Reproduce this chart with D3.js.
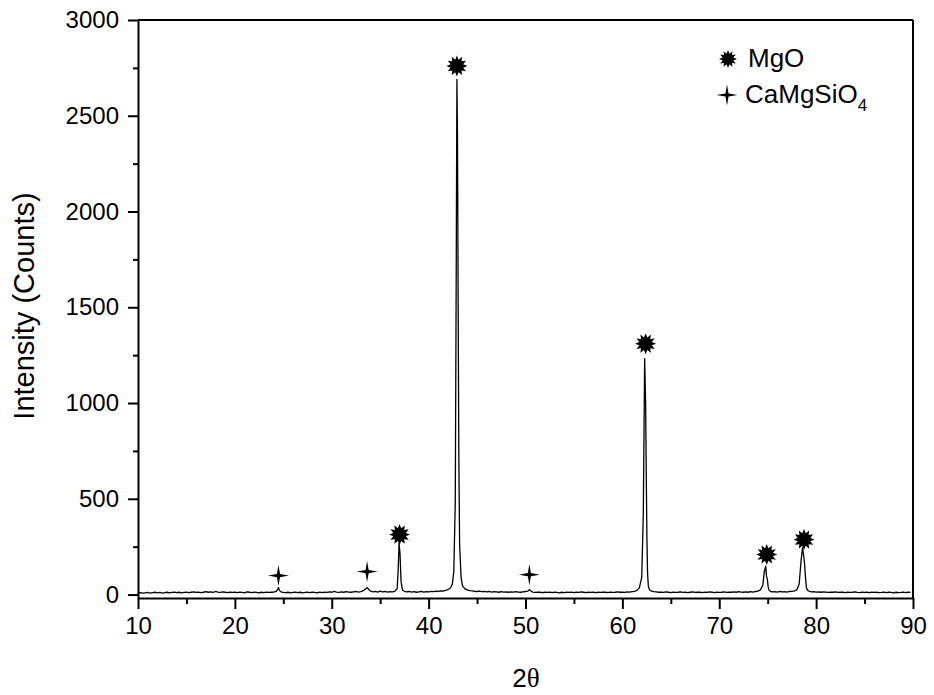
<!DOCTYPE html>
<html>
<head>
<meta charset="utf-8">
<script src="https://cdn.jsdelivr.net/npm/d3@7"></script>
<style>
    body { margin: 0; background: #fff; }
    text { font-family: "Liberation Sans", Arial, sans-serif; fill: #000; }
    .axis path, .axis line { stroke: #000; stroke-width: 2px; }
    .axis text { font-size: 24px; font-family: "Liberation Sans", Arial, sans-serif; }
</style>
</head>
<body>
<script>
// 2theta positions of the scan (degrees)
var twoTheta = [
    10.0, 10.25, 10.5, 10.75, 11.0, 11.25, 11.5, 11.75, 12.0, 12.25, 12.5, 12.75,
    13.0, 13.25, 13.5, 13.75, 14.0, 14.25, 14.5, 14.75, 15.0, 15.25, 15.5, 15.75,
    16.0, 16.25, 16.5, 16.75, 17.0, 17.25, 17.5, 17.75, 18.0, 18.25, 18.5, 18.75,
    19.0, 19.25, 19.5, 19.75, 20.0, 20.25, 20.5, 20.75, 21.0, 21.25, 21.5, 21.75,
    22.0, 22.25, 22.5, 22.75, 23.0, 23.25, 23.5, 23.75, 24.0, 24.25, 24.4, 24.5,
    24.6, 24.75, 25.0, 25.25, 25.5, 25.75, 26.0, 26.25, 26.5, 26.75, 27.0, 27.25,
    27.5, 27.75, 28.0, 28.25, 28.5, 28.75, 29.0, 29.25, 29.5, 29.75, 30.0, 30.25,
    30.5, 30.75, 31.0, 31.25, 31.5, 31.75, 32.0, 32.25, 32.5, 32.75, 33.0, 33.25,
    33.5, 33.65, 33.8, 34.0, 34.25, 34.5, 34.75, 35.0, 35.25, 35.5, 35.75, 36.0,
    36.25, 36.5, 36.75, 36.85, 36.95, 37.05, 37.15, 37.3, 37.5, 37.75, 38.0, 38.25,
    38.5, 38.75, 39.0, 39.25, 39.5, 39.75, 40.0, 40.25, 40.5, 40.75, 41.0, 41.25,
    41.5, 41.75, 42.0, 42.25, 42.45, 42.6, 42.75, 42.85, 42.92, 42.98, 43.05, 43.12,
    43.2, 43.35, 43.5, 43.75, 44.0, 44.25, 44.5, 44.75, 45.0, 45.25, 45.5, 45.75,
    46.0, 46.25, 46.5, 46.75, 47.0, 47.25, 47.5, 47.75, 48.0, 48.25, 48.5, 48.75,
    49.0, 49.25, 49.5, 49.75, 50.0, 50.25, 50.4, 50.6, 50.75, 51.0, 51.25, 51.5,
    51.75, 52.0, 52.25, 52.5, 52.75, 53.0, 53.25, 53.5, 53.75, 54.0, 54.25, 54.5,
    54.75, 55.0, 55.25, 55.5, 55.75, 56.0, 56.25, 56.5, 56.75, 57.0, 57.25, 57.5,
    57.75, 58.0, 58.25, 58.5, 58.75, 59.0, 59.25, 59.5, 59.75, 60.0, 60.25, 60.5,
    60.75, 61.0, 61.25, 61.5, 61.75, 62.0, 62.16, 62.3, 62.4, 62.46, 62.53, 62.6,
    62.68, 62.8, 63.0, 63.25, 63.5, 63.75, 64.0, 64.25, 64.5, 64.75, 65.0, 65.25,
    65.5, 65.75, 66.0, 66.25, 66.5, 66.75, 67.0, 67.25, 67.5, 67.75, 68.0, 68.25,
    68.5, 68.75, 69.0, 69.25, 69.5, 69.75, 70.0, 70.25, 70.5, 70.75, 71.0, 71.25,
    71.5, 71.75, 72.0, 72.25, 72.5, 72.75, 73.0, 73.25, 73.5, 73.75, 74.0, 74.25,
    74.5, 74.65, 74.8, 74.88, 74.96, 75.05, 75.15, 75.3, 75.5, 75.75, 76.0, 76.25,
    76.5, 76.75, 77.0, 77.25, 77.5, 77.75, 78.0, 78.25, 78.45, 78.6, 78.72, 78.8,
    78.9, 79.0, 79.15, 79.35, 79.5, 79.75, 80.0, 80.25, 80.5, 80.75, 81.0, 81.25,
    81.5, 81.75, 82.0, 82.25, 82.5, 82.75, 83.0, 83.25, 83.5, 83.75, 84.0, 84.25,
    84.5, 84.75, 85.0, 85.25, 85.5, 85.75, 86.0, 86.25, 86.5, 86.75, 87.0, 87.25,
    87.5, 87.75, 88.0, 88.25, 88.5, 88.75, 89.0, 89.25, 89.5, 89.75, 90.0
];

var counts = [
    8, 10, 7, 9, 11, 8, 10, 12, 9, 11, 8, 10,
    12, 9, 11, 13, 10, 12, 9, 11, 13, 10, 12, 14,
    11, 13, 10, 12, 15, 12, 14, 11, 16, 13, 11, 14,
    12, 10, 13, 11, 12, 10, 13, 11, 9, 14, 12, 10,
    13, 11, 9, 12, 10, 13, 11, 12, 13, 16, 26, 36,
    22, 14, 11, 10, 12, 9, 11, 13, 10, 12, 9, 11,
    13, 10, 12, 11, 9, 13, 10, 12, 11, 14, 12, 16,
    13, 11, 14, 12, 15, 13, 12, 14, 16, 13, 15, 20,
    30, 36, 28, 18, 14, 17, 13, 18, 14, 16, 13, 15,
    14, 17, 30, 120, 268, 210, 70, 24, 17, 14, 16, 13,
    15, 12, 14, 16, 13, 15, 14, 17, 15, 18, 16, 19,
    18, 22, 26, 34, 55, 120, 480, 1700, 2690, 2400, 1500, 700,
    260, 90, 45, 30, 24, 20, 19, 17, 16, 18, 15, 17,
    14, 16, 13, 15, 14, 12, 15, 13, 14, 12, 14, 13,
    15, 13, 12, 14, 16, 18, 26, 17, 13, 11, 13, 12,
    10, 12, 11, 13, 10, 12, 11, 9, 12, 10, 12, 11,
    13, 10, 12, 11, 14, 12, 10, 12, 11, 13, 10, 12,
    11, 13, 12, 10, 13, 11, 12, 14, 12, 13, 11, 14,
    13, 15, 17, 22, 35, 90, 420, 1232, 1000, 660, 300, 110,
    45, 25, 18, 15, 14, 12, 13, 11, 14, 12, 10,
    13, 11, 12, 14, 11, 13, 10, 12, 14, 11, 13, 12,
    10, 13, 11, 14, 12, 10, 13, 11, 12, 14, 11, 13,
    12, 14, 12, 15, 13, 12, 14, 12, 15, 13, 16, 18,
    24, 50, 120, 148, 95, 82, 40, 22, 16, 14, 15, 13,
    16, 14, 15, 13, 16, 17, 19, 24, 55, 180, 245, 200,
    165, 90, 35, 20, 16, 14, 15, 13, 14, 12, 14, 13,
    11, 13, 12, 14, 11, 13, 12, 10, 13, 11, 12, 14,
    11, 10, 13, 11, 12, 10, 13, 11, 12, 10, 11, 13,
    10, 12, 11, 9, 12, 10, 11, 13, 10, 12, 11
];

// phase markers: peak position and the height the symbol sits at
var mgoPeaks = [37.0, 42.92, 62.4, 74.9, 78.75];
var mgoMarkY = [313, 2760, 1310, 209, 287];
var camgPeaks = [24.5, 33.65, 50.4];
var camgMarkY = [99, 120, 104];

var xTicks = [10, 20, 30, 40, 50, 60, 70, 80, 90];
var xMinor = [15, 25, 35, 45, 55, 65, 75, 85];
var yTicks = [0, 500, 1000, 1500, 2000, 2500, 3000];
var yMinor = [250, 750, 1250, 1750, 2250, 2750];

window.onload = function() {

    var w = 934, h = 695;
    var margin = { left: 138, top: 20, right: 21, bottom: 97 };

    var svg = d3.select("body")
        .append("svg")
        .attr("width", w)
        .attr("height", h);

    // Scales
    var x = d3.scaleLinear()
        .domain([10, 90])
        .range([margin.left, w - margin.right]);

    var y = d3.scaleLinear()
        .domain([-18, 3000])
        .range([h - margin.bottom, margin.top]);

    // star shaped symbol path
    function star(n, rOut, rIn) {
        var pts = [];
        for (var i = 0; i < n * 2; i++) {
            var a = Math.PI * i / n - Math.PI / 2;
            var r = i % 2 === 0 ? rOut : rIn;
            pts.push([r * Math.cos(a), r * Math.sin(a)]);
        }
        return "M" + pts.join("L") + "Z";
    }
    var burst = star(12, 10.5, 6.5);
    var cross = star(4, 10.5, 2.2);
    var burstSmall = star(12, 9, 5.5);

    // Data line
    var pts = twoTheta.map(function(t, i) { return [t, counts[i]]; });

    var line = d3.line()
        .x(function(d) { return x(d[0]); })
        .y(function(d) { return y(d[1]); });

    svg.append("path")
        .datum(pts)
        .attr("d", line)
        .style("fill", "none")
        .style("stroke", "#000")
        .style("stroke-width", 1.3)
        .style("stroke-linejoin", "round");

    // Markers
    svg.selectAll(".mgo")
        .data(mgoPeaks)
        .enter()
        .append("path")
        .attr("class", "mgo")
        .attr("d", burst)
        .attr("transform", function(d, i) { return "translate(" + x(d) + "," + y(mgoMarkY[i]) + ")"; })
        .style("fill", "#000");

    svg.selectAll(".camg")
        .data(camgPeaks)
        .enter()
        .append("path")
        .attr("class", "camg")
        .attr("d", cross)
        .attr("transform", function(d, i) { return "translate(" + x(d) + "," + y(camgMarkY[i]) + ")"; })
        .style("fill", "#000");

    // Frame (top and right)
    svg.append("line")
        .attr("x1", x(10)).attr("x2", x(90))
        .attr("y1", y(3000)).attr("y2", y(3000))
        .style("stroke", "#000").style("stroke-width", 2);
    svg.append("line")
        .attr("x1", x(90)).attr("x2", x(90))
        .attr("y1", y(3000)).attr("y2", y(-18))
        .style("stroke", "#000").style("stroke-width", 2);

    // Axes
    var fmt = d3.format("d");

    svg.append("g")
        .attr("class", "axis")
        .attr("transform", "translate(0," + y(-18) + ")")
        .call(d3.axisBottom(x).tickValues(xTicks).tickFormat(fmt).tickSize(11).tickSizeOuter(0).tickPadding(8));

    svg.append("g")
        .attr("class", "axis")
        .attr("transform", "translate(0," + y(-18) + ")")
        .call(d3.axisBottom(x).tickValues(xMinor).tickSize(6).tickFormat(""))
        .select(".domain").remove();

    svg.append("g")
        .attr("class", "axis")
        .attr("transform", "translate(" + x(10) + ",0)")
        .call(d3.axisLeft(y).tickValues(yTicks).tickFormat(fmt).tickSize(10).tickSizeOuter(0).tickPadding(9));

    svg.append("g")
        .attr("class", "axis")
        .attr("transform", "translate(" + x(10) + ",0)")
        .call(d3.axisLeft(y).tickValues(yMinor).tickSize(5).tickFormat(""))
        .select(".domain").remove();

    // Axis titles
    svg.append("text")
        .attr("transform", "translate(34,306) rotate(-90)")
        .attr("text-anchor", "middle")
        .style("font-size", "29px")
        .text("Intensity (Counts)");

    var xt = svg.append("text")
        .attr("x", 526)
        .attr("y", 687)
        .attr("text-anchor", "middle")
        .style("font-size", "26px");
    xt.append("tspan").text("2");
    xt.append("tspan")
        .style("font-family", "'Liberation Serif', 'Times New Roman', serif")
        .style("font-size", "27px")
        .text("\u03B8");

    // Legend
    svg.append("path")
        .attr("d", burstSmall)
        .attr("transform", "translate(728,59)");
    svg.append("text")
        .attr("x", 748).attr("y", 67)
        .style("font-size", "26px")
        .text("MgO");

    svg.append("path")
        .attr("d", cross)
        .attr("transform", "translate(727,95)");
    var lt = svg.append("text")
        .attr("x", 745).attr("y", 103)
        .style("font-size", "26px");
    lt.append("tspan").text("CaMgSiO");
    lt.append("tspan")
        .attr("dy", 8)
        .style("font-size", "17px")
        .text("4");
};
</script>
</body>
</html>
